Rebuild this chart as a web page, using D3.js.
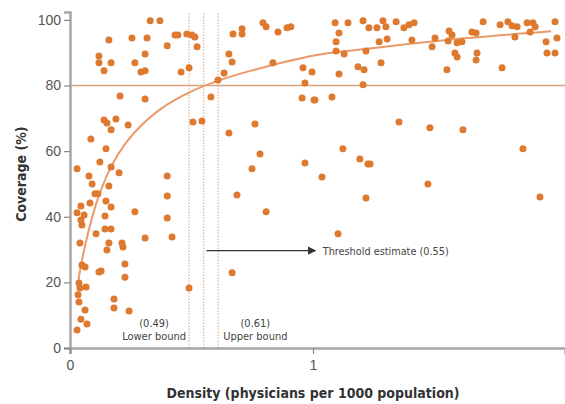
<!DOCTYPE html>
<html>
<head>
<meta charset="utf-8">
<script src="https://cdn.jsdelivr.net/npm/d3@7"></script>
<style>
  body { margin: 0; background: #fff; }
  svg { display: block; }
  .tick text { font-family: "Liberation Sans", Arial, sans-serif; }
</style>
</head>
<body>
<svg id="chart" width="565" height="404"></svg>
<script>
// Countries: physician density vs coverage (%)
const densities = [
  0.33, 0.37, 0.16, 0.255, 0.317, 0.40, 0.432, 0.444, 0.481, 0.502, 0.514, 0.523,
  0.119, 0.119, 0.14, 0.169, 0.309, 0.267, 0.292, 0.309, 0.457, 0.49, 0.206, 0.309,
  0.14, 0.152, 0.189, 0.239,
  0.169, 0.086, 0.148, 0.123, 0.169, 0.029, 0.202, 0.078, 0.091, 0.16, 0.40, 0.103,
  0.115, 0.148, 0.082, 0.169, 0.045, 0.40, 0.029, 0.058, 0.045, 0.049, 0.144, 0.267,
  0.40, 0.144, 0.169, 0.107, 0.041, 0.309, 0.42, 0.16, 0.214,
  0.152, 0.218, 0.049, 0.062, 0.119, 0.128, 0.226, 0.226, 0.037, 0.041, 0.066, 0.033,
  0.037, 0.49, 0.181, 0.181, 0.243, 0.062, 0.045, 0.07, 0.029,
  0.708, 0.671, 0.708, 0.794, 0.807, 0.856, 0.893, 0.909, 0.654, 0.667, 0.634, 0.609,
  0.835, 0.959, 0.996, 0.967, 0.955, 1.004, 0.58, 0.506, 0.543, 0.761, 0.654, 0.782,
  0.749, 0.687, 0.807, 0.667, 0.967, 1.037, 1.123, 1.193, 1.226, 1.218, 1.103,
  1.091, 1.144, 1.206, 1.23, 1.263, 1.288, 1.30, 1.342, 1.374, 1.395, 1.416, 1.107,
  1.095, 1.095, 1.128, 1.218, 1.272, 1.305, 1.407, 1.502, 1.49, 1.28, 1.185, 1.21,
  1.107, 1.206, 1.008, 1.078, 1.354, 1.481,
  1.56, 1.572, 1.556, 1.593, 1.613, 1.584, 1.593, 1.654, 1.671, 1.70, 1.675, 1.671,
  1.77, 1.802, 1.819, 1.84, 1.831, 1.881, 1.905, 1.893, 1.914, 1.996, 1.959, 2.004,
  1.963, 1.996, 1.551, 1.778, 1.617, 1.864, 1.473, 1.934, 1.235
];
const coverages = [
  99.7, 99.7, 93.9, 94.5, 94.5, 92.1, 95.4, 95.4, 95.7, 95.4, 94.8, 91.8,
  89, 86.9, 84.5, 86.9, 89.6, 86.9, 84.1, 84.5, 84.1, 85.4, 76.8, 75.9,
  69.5, 68.6, 69.8, 68,
  66.5, 63.7, 60.7, 56.7, 55.2, 54.6, 53.4, 52.4, 50, 49.4, 52.4, 47,
  47, 44.8, 44.2, 43, 43.3, 46.3, 41.2, 40.5, 39, 37.5, 40.2, 41.5,
  39.6, 36.3, 36.3, 34.8, 32, 33.5, 33.8, 32, 32,
  29.9, 30.8, 25.3, 24.7, 23.2, 23.5, 25.6, 21.6, 19.8, 18.3, 18.6, 16.2,
  14, 18.3, 14.9, 12.2, 11.3, 11.6, 8.8, 7.3, 5.5,
  97.3, 95.7, 95.7, 99.1, 97.9, 96.3, 97.6, 97.9, 89.6, 87.2, 83.8, 81.7,
  86.9, 85.4, 84.1, 80.8, 76.2, 75.6, 76.5, 68.9, 69.2, 68.3, 65.5, 59.1,
  54.6, 46.6, 41.5, 22.9, 56.4, 52.1, 60.7, 57.6, 56.1, 45.7, 34.8,
  99.1, 99.1, 99.7, 97.6, 97.6, 99.7, 97.9, 99.4, 97.6, 98.5, 99.1, 96,
  93.3, 90.5, 89.6, 90.5, 93.3, 94.2, 93.9, 94.5, 91.8, 86.9, 85.7, 84.8,
  83.5, 80.2, 75.6, 76.5, 68.9, 67.1,
  96.6, 95.4, 93.6, 93, 93.3, 89.9, 88.7, 96.3, 96, 99.4, 89.9, 87.8,
  98.5, 99.4, 98.2, 97.9, 94.8, 99.1, 99.1, 96.3, 97.9, 99.4, 93.3, 94.5,
  89.9, 89.9, 84.8, 85.4, 66.5, 60.7, 50, 46, 56.1
];

// Fitted curve
const fitX = [0.035, 0.041, 0.063, 0.09, 0.118, 0.173, 0.23, 0.29, 0.38, 0.5, 0.62, 0.75, 1.01, 1.235, 1.54, 1.98];
const fitY = [20.5, 23.5, 31.5, 39.5, 46.2, 55.8, 62.5, 67.6, 73.2, 78.2, 81.7, 84.6, 89.2, 91.3, 93.8, 96.5];

const coverageTarget = 80;
const bounds = [
  {value: 0.49, label: 'Lower bound', side: 'left'},
  {value: 0.61, label: 'Upper bound', side: 'right'}
];
const threshold = 0.55;

const xTicks = [0, 1];
const yTicks = [0, 20, 40, 60, 80, 100];

const svg = d3.select('#chart');
const margin = {top: 12, right: 0, bottom: 56, left: 70};
const width = 565, height = 404;

const x = d3.scaleLinear().domain([0, 2.037]).range([margin.left, width - margin.right]);
const y = d3.scaleLinear().domain([0, 102.4]).range([height - margin.bottom, margin.top]);

const orange = '#de7a2f';
const tan = '#dba27c';
const axisGrey = '#a6a6a6';

// vertical bound / threshold lines (dotted)
svg.selectAll('.vline')
  .data([bounds[0].value, threshold, bounds[1].value])
  .enter()
  .append('line')
  .attr('x1', d => x(d)).attr('x2', d => x(d))
  .attr('y1', y(0)).attr('y2', y(102.4))
  .attr('stroke', '#e0b89e')
  .attr('stroke-width', 1.3)
  .attr('stroke-dasharray', '1.5,1.5');

// 80% line
svg.append('line')
  .attr('x1', x(0)).attr('x2', x(2.037))
  .attr('y1', y(coverageTarget)).attr('y2', y(coverageTarget))
  .attr('stroke', tan)
  .attr('stroke-width', 1.6);

// fitted curve
const fit = fitX.map((d, i) => [d, fitY[i]]);
svg.append('path')
  .datum(fit)
  .attr('fill', 'none')
  .attr('stroke', '#e99a66')
  .attr('stroke-width', 2)
  .attr('d', d3.line().x(d => x(d[0])).y(d => y(d[1])).curve(d3.curveCatmullRom));

// points
svg.selectAll('.dot')
  .data(densities.map((d, i) => [d, coverages[i]]))
  .enter()
  .append('circle')
  .attr('class', 'dot')
  .attr('cx', d => x(d[0]))
  .attr('cy', d => y(d[1]))
  .attr('r', 3.5)
  .attr('fill', orange);

// axes
const yAxis = svg.append('g')
  .attr('transform', `translate(${x(0)},0)`)
  .call(d3.axisLeft(y).tickValues(yTicks).tickSize(6).tickPadding(3));
const xAxis = svg.append('g')
  .attr('transform', `translate(0,${y(0)})`)
  .call(d3.axisBottom(x).tickValues(xTicks).tickSize(6).tickPadding(6).tickFormat(d3.format('d')));

[xAxis, yAxis].forEach(g => {
  g.select('.domain').attr('stroke', axisGrey).attr('stroke-width', 2.5);
  g.selectAll('.tick line').attr('stroke', '#888').attr('stroke-width', 1.2);
  g.selectAll('.tick text').attr('fill', '#555').style('font-size', '14px');
});

// annotations
const noteFont = '"Liberation Sans Narrow", "DejaVu Sans Condensed", Arial, sans-serif';

svg.append('defs').append('marker')
  .attr('id', 'arrow')
  .attr('viewBox', '0 0 10 10')
  .attr('refX', 9).attr('refY', 5)
  .attr('markerWidth', 7).attr('markerHeight', 7)
  .attr('orient', 'auto')
  .append('path')
  .attr('d', 'M0,0 L10,5 L0,10 z')
  .attr('fill', '#333');

svg.append('line')
  .attr('x1', x(threshold) + 3).attr('x2', x(1.01))
  .attr('y1', y(29.7)).attr('y2', y(29.7))
  .attr('stroke', '#333')
  .attr('stroke-width', 1.2)
  .attr('marker-end', 'url(#arrow)');

svg.append('text')
  .attr('x', x(1.04)).attr('y', y(29.7) + 4)
  .attr('font-family', noteFont)
  .attr('font-size', 10.8)
  .attr('fill', '#444')
  .text(`Threshold estimate (${threshold})`);

bounds.forEach(b => {
  const left = b.side === 'left';
  const g = svg.append('g')
    .attr('font-family', noteFont)
    .attr('font-size', 11)
    .attr('fill', '#444');
  const tx = left ? x(b.value) - 3 : x(b.value) + 5;
  const lab = g.append('text')
    .attr('x', tx).attr('y', 340)
    .attr('text-anchor', left ? 'end' : 'start')
    .text(b.label);
  const w = lab.node().getComputedTextLength();
  g.append('text')
    .attr('x', left ? tx - w / 2 : tx + w / 2).attr('y', 327)
    .attr('text-anchor', 'middle')
    .text(`(${b.value})`);
});

// axis titles
svg.append('text')
  .attr('x', x(1)).attr('y', 398)
  .attr('text-anchor', 'middle')
  .attr('font-family', noteFont)
  .attr('font-weight', 'bold')
  .attr('font-size', 14)
  .attr('fill', '#333')
  .text('Density (physicians per 1000 population)');

svg.append('text')
  .attr('transform', `translate(26,${y(53)}) rotate(-90)`)
  .attr('text-anchor', 'middle')
  .attr('font-family', noteFont)
  .attr('font-weight', 'bold')
  .attr('font-size', 14)
  .attr('fill', '#333')
  .text('Coverage (%)');
</script>
</body>
</html>
